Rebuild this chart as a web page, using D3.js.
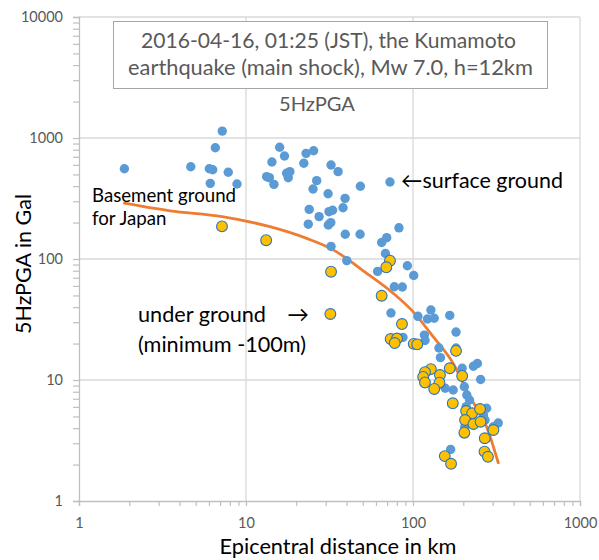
<!DOCTYPE html>
<html>
<head>
<meta charset="utf-8">
<script src="https://cdn.jsdelivr.net/npm/d3@7"></script>
<style>
  body { margin: 0; background: #fff; }
  svg { display: block; }
  text { font-family: Lato, "Open Sans", "DejaVu Sans", sans-serif; }
</style>
</head>
<body>
<svg id="chart" width="599" height="560"></svg>
<script>
// Surface-ground stations: epicentral distance (km) and 5 Hz PGA (Gal)
const surfaceDist = [1.87, 7.21, 6.55, 4.67, 6.03, 6.32, 7.83, 6.11, 8.83, 14.3,
  15.9, 17.0, 22.9, 25.4, 22.2, 32.3, 35.6, 13.3, 13.8, 17.5,
  18.3, 17.9, 14.7, 26.5, 25.2, 48.4, 72.8, 31.0, 39.2, 38.1,
  23.9, 31.4, 33.0, 27.4, 23.6, 31.1, 32.2, 39.3, 48.2, 82.4,
  69.6, 64.9, 32.3, 68.4, 40.1, 92.5, 61.4, 101, 77.3, 86.3,
  73.8, 107, 128, 122, 134, 166, 181, 87.1, 117, 118,
  143, 146, 181, 197, 230, 243, 254, 156, 174, 203,
  210, 218, 208, 276, 264, 270, 324, 303, 204, 168];
const surfacePGA = [557, 1140, 830, 579, 557, 547, 521, 422, 417, 633,
  838, 710, 747, 785, 618, 598, 527, 479, 470, 511,
  527, 470, 414, 444, 379, 399, 433, 346, 317, 265,
  257, 246, 253, 224, 194, 191, 200, 160, 160, 181,
  150, 137, 127, 111, 97, 88, 79, 73, 59, 58.7,
  35.8, 33.6, 37.9, 31.9, 32.4, 34.2, 24.9, 22.5, 23.5, 21.2,
  18.4, 15.3, 18.4, 12.5, 13.0, 13.7, 10.1, 8.54, 8.27, 8.8,
  7.52, 6.83, 6.02, 5.84, 5.14, 4.67, 4.41, 4.11, 4.09, 2.67];

// Borehole (under ground) stations
const undergroundDist = [7.18, 13.2, 32.3, 72.8, 69.2, 64.9, 32.0, 85.9, 73.5, 80.2,
  77.7, 101, 106, 181, 128, 118, 115, 118, 145, 144,
  166, 197, 134, 173, 208, 226, 252, 205, 230, 254,
  303, 203, 269, 268, 281, 155, 169];
const undergroundPGA = [186, 143, 78.5, 96.8, 85.4, 49.7, 35.1, 29.0, 21.8, 22.0,
  20.2, 19.9, 19.7, 17.4, 12.3, 11.6, 10.6, 9.54, 11.0, 9.5,
  12.5, 10.8, 8.43, 6.42, 5.54, 5.31, 5.76, 4.67, 4.33, 4.52,
  3.86, 3.67, 3.30, 2.56, 2.32, 2.35, 2.03];

// Attenuation curve for basement ground in Japan
const basementDist = [1.87, 3.51, 7.19, 13.9, 23.1, 33.3, 52.8, 76.2, 100, 132, 174, 219, 276, 324];
const basementPGA = [289, 250, 224, 185, 148, 119, 76.2, 52.0, 36.7, 22.8, 13.7, 7.28, 4.11, 2.07];

// Axis ticks
const xTickLabels = [1, 10, 100, 1000];
const yTickLabels = [1, 10, 100, 1000, 10000];

const titleLines = ["2016-04-16, 01:25 (JST), the Kumamoto",
                    "earthquake (main shock), Mw 7.0, h=12km"];
const subTitle = "5HzPGA";
const xTitle = "Epicentral distance in km";
const yTitle = "5HzPGA in Gal";

const svg = d3.select("#chart");
const plotLeft = 79, plotRight = 580, plotTop = 17, plotBottom = 501;

const x = d3.scaleLog().domain([1, 1000]).range([plotLeft, plotRight]);
const y = d3.scaleLog().domain([1, 10000]).range([plotBottom, plotTop]);

const gridColor = "#d9d9d9", axisColor = "#bfbfbf", tickText = "#595959";

// scale a text's font-size so that it spans the given width
function fitWidth(sel, target) {
  sel.style("font-size", "20px");
  const w = sel.node().getComputedTextLength();
  const size = 20 * target / w;
  sel.style("font-size", size.toFixed(2) + "px");
  return size;
}

// 1..9 ticks in every decade
function decadeTicks(lo, hi) {
  const out = [];
  for (let p = lo; p < hi; p *= 10) for (let k = 1; k < 10; k++) out.push(p * k);
  out.push(hi);
  return out;
}

// gridlines
svg.append("g").selectAll("line").data(yTickLabels.filter(d => d > 1)).join("line")
  .attr("x1", plotLeft).attr("x2", plotRight)
  .attr("y1", d => y(d)).attr("y2", d => y(d))
  .attr("stroke", gridColor).attr("stroke-width", 1.3);
svg.append("g").selectAll("line").data(xTickLabels.filter(d => d > 1)).join("line")
  .attr("x1", d => x(d)).attr("x2", d => x(d))
  .attr("y1", plotTop).attr("y2", plotBottom)
  .attr("stroke", gridColor).attr("stroke-width", 1.3);

// axes
const yAxis = d3.axisLeft(y).tickValues(decadeTicks(1, 10000))
  .tickFormat(d => yTickLabels.includes(d) ? d3.format("d")(d) : "")
  .tickSize(6).tickPadding(10);
const gy = svg.append("g").attr("transform", `translate(${plotLeft},0)`).call(yAxis);

const xAxis = d3.axisBottom(x).tickValues(decadeTicks(1, 1000))
  .tickFormat(d => xTickLabels.includes(d) ? d3.format("d")(d) : "")
  .tickSize(5).tickPadding(12);
const gx = svg.append("g").attr("transform", `translate(0,${plotBottom})`).call(xAxis);

[gx, gy].forEach(g => {
  g.select(".domain").attr("stroke", axisColor).attr("stroke-width", 1.3);
  g.selectAll(".tick line").attr("stroke", axisColor).attr("stroke-width", 1.2);
  g.selectAll(".tick text").attr("fill", tickText)
    .style("font-size", "14.5px").style("font-family", "Lato, sans-serif");
});

// basement curve
const line = d3.line().x(d => x(d[0])).y(d => y(d[1])).curve(d3.curveMonotoneX);
svg.append("path")
  .datum(d3.zip(basementDist, basementPGA))
  .attr("d", line)
  .attr("fill", "none").attr("stroke", "#ED7D31").attr("stroke-width", 2.8)
  .attr("stroke-linecap", "round");

// surface ground stations
svg.append("g").selectAll("circle").data(d3.zip(surfaceDist, surfacePGA)).join("circle")
  .attr("cx", d => x(d[0])).attr("cy", d => y(d[1])).attr("r", 4.7)
  .attr("fill", "#5B9BD5");

// under ground stations
svg.append("g").selectAll("circle").data(d3.zip(undergroundDist, undergroundPGA)).join("circle")
  .attr("cx", d => x(d[0])).attr("cy", d => y(d[1])).attr("r", 5.4)
  .attr("fill", "#FFC000").attr("stroke", "#2E75B6").attr("stroke-width", 1.1);

// title box
svg.append("rect").attr("x", 113.5).attr("y", 21.5).attr("width", 434).attr("height", 67)
  .attr("fill", "#fff").attr("stroke", "#a6a6a6").attr("stroke-width", 1);
const t1 = svg.append("text").attr("x", 328.5).attr("y", 48).attr("text-anchor", "middle")
  .attr("fill", "#595959").text(titleLines[0]);
fitWidth(t1, 375);
const t2 = svg.append("text").attr("x", 330.5).attr("y", 75).attr("text-anchor", "middle")
  .attr("fill", "#595959").text(titleLines[1]);
fitWidth(t2, 405);
const st = svg.append("text").attr("x", 317).attr("y", 111).attr("text-anchor", "middle")
  .attr("fill", "#595959").text(subTitle);
fitWidth(st, 76);

// annotations
const b1 = svg.append("text").attr("x", 92).attr("y", 202).attr("fill", "#000").text("Basement ground");
const bs = fitWidth(b1, 144);
svg.append("text").attr("x", 92).attr("y", 225).attr("fill", "#000")
  .style("font-size", bs.toFixed(2) + "px").text("for Japan");

const u1 = svg.append("text").attr("x", 138).attr("y", 322).attr("fill", "#000").text("under ground");
const us = fitWidth(u1, 128);
svg.append("text").attr("x", 298).attr("y", 322).attr("text-anchor", "middle").attr("fill", "#000")
  .style("font-size", us.toFixed(2) + "px").text("→");
svg.append("text").attr("x", 138).attr("y", 352).attr("fill", "#000")
  .style("font-size", us.toFixed(2) + "px").text("(minimum -100m)");

const sg = svg.append("text").attr("x", 401).attr("y", 188).attr("fill", "#000").text("←surface ground");
fitWidth(sg, 162);

// axis titles
const xt = svg.append("text").attr("x", 338).attr("y", 554).attr("text-anchor", "middle")
  .attr("fill", "#000").text(xTitle);
fitWidth(xt, 237);
const yt = svg.append("text").attr("text-anchor", "middle").attr("fill", "#000")
  .attr("transform", "translate(31,264) rotate(-90)").text(yTitle);
fitWidth(yt, 140);
</script>
</body>
</html>
